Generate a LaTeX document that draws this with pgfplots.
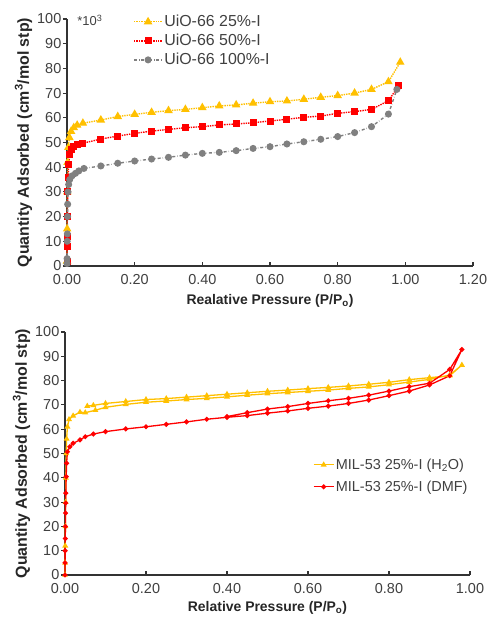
\documentclass[border=0pt]{standalone}
\usepackage{pgfplots}
\pgfplotsset{compat=1.18}
\usepackage{fontspec}
\setmainfont{Liberation Sans}
\definecolor{cY}{HTML}{FFC000}
\definecolor{cR}{HTML}{FF0000}
\definecolor{cG}{HTML}{808080}
\definecolor{txt}{HTML}{404040}
\pgfplotsset{
  base/.style={
    scale only axis, clip=false,
    axis x line*=bottom, axis y line*=left,
    axis line style={line width=1.3bp, black!80, -},
    xtick align=inside, ytick align=outside,
    major tick length=4bp,
    tick style={line width=1.1bp, black!80},
    ymin=0, ymax=100, ytick={0,10,...,100}, xmin=0,
    tick label style={font=\fontsize{14.5}{16}\selectfont, text=txt},
    yticklabel style={inner sep=1.5bp},
    xticklabel style={inner sep=0pt, yshift=-8.5bp, /pgf/number format/fixed, /pgf/number format/fixed zerofill, /pgf/number format/precision=2},
    xlabel style={font=\bfseries\fontsize{14}{16}\selectfont, text=black!85},
    ylabel style={font=\bfseries\fontsize{16}{18}\selectfont, text=black!85},
    /pgf/number format/assume math mode=true,
    legend cell align=left,
  }
}
\begin{document}
\begin{tikzpicture}
\useasboundingbox (0bp,0bp) rectangle (491bp,620bp);
% ---------------- top ----------------
\begin{axis}[base,
  at={(67bp,354bp)}, anchor=south west,
  width=406bp, height=247bp,
  xmax=1.2, xtick={0,0.2,0.4,0.6,0.8,1.0,1.2},
  xlabel style={yshift=-6bp},
  xlabel={Realative Pressure (P/P\textsubscript{o})},
  ylabel={Quantity Adsorbed (cm\textsuperscript{3}/mol stp)},
  legend style={at={(0.163,1.022)}, anchor=north west, draw=none, fill=none,
    font=\fontsize{16}{18}\selectfont, text=txt, row sep=3bp, inner sep=0pt,
    nodes={inner sep=1.5bp}},
  legend image code/.code={\draw[mark repeat=2,mark phase=2,#1] plot coordinates {(0bp,0bp) (14bp,0bp) (28bp,0bp)};},
]
\addplot[cY, densely dotted, line width=1.4bp, mark=triangle*, mark size=3.6bp, mark options={solid}] table {
x y
0.0002 2
0.0005 15
0.001 30
0.002 42
0.004 48
0.007 52
0.012 54.5
0.02 56
0.03 57
0.047 57.8
0.1 59.1
0.15 60.5
0.2 61.4
0.25 62.2
0.3 62.9
0.35 63.4
0.4 64.1
0.45 64.8
0.5 65.2
0.55 65.9
0.6 66.5
0.65 66.8
0.7 67.5
0.75 68.3
0.8 69
0.85 70
0.9 71.5
0.95 74.6
0.985 82.5
};
\addlegendentry{UiO-66 25\%-I}
\addplot[cR, densely dotted, line width=1.4bp, mark=square*, mark size=2.8bp, mark options={solid}] table {
x y
0.0001 2
0.0003 8
0.0005 12
0.001 20
0.002 30
0.003 36
0.005 41
0.008 45
0.012 47
0.02 48.5
0.03 49.2
0.047 49.7
0.1 51.4
0.15 52.6
0.2 53.7
0.25 54.6
0.3 55.3
0.35 56
0.4 56.4
0.45 57.1
0.5 57.5
0.55 58
0.6 58.7
0.65 59.4
0.7 60.2
0.75 60.7
0.8 61.8
0.85 62.5
0.9 63.4
0.95 66.9
0.98 72.9
};
\addlegendentry{UiO-66 50\%-I}
\addplot[cG, dash dot, line width=1.4bp, mark=*, mark size=2.8bp, mark options={solid}] table {
x y
0.0001 1
0.0003 3
0.0006 10
0.001 13
0.0015 20
0.002 25
0.003 30
0.005 33
0.008 35
0.015 36.5
0.025 37.5
0.035 38.5
0.05 39.5
0.1 40.5
0.15 41.6
0.2 42.5
0.25 43.3
0.3 44
0.35 44.9
0.4 45.6
0.45 46
0.5 46.7
0.55 47.6
0.6 48.3
0.65 49.4
0.7 50.3
0.75 51.3
0.8 52.4
0.85 54
0.9 56.4
0.95 61.5
0.975 71.5
};
\addlegendentry{UiO-66 100\%-I}
\node[anchor=west, font=\fontsize{13}{15}\selectfont, text=txt, inner sep=0pt] at (rel axis cs:0.025,0.995) {*10\textsuperscript{3}};
\end{axis}
% ---------------- bottom ----------------
\begin{axis}[base,
  at={(65bp,45bp)}, anchor=south west,
  width=405bp, height=243bp,
  xmax=1.0, xtick={0,0.2,0.4,0.6,0.8,1.0},
  xlabel style={yshift=-4bp},
  xlabel={Relative Pressure (P/P\textsubscript{o})},
  ylabel={Quantity Adsorbed (cm\textsuperscript{3}/mol stp)},
  legend style={at={(0.612,0.485)}, anchor=north west, draw=none, fill=none,
    font=\fontsize{14.5}{16}\selectfont, text=txt, row sep=7bp, inner sep=0pt,
    nodes={inner sep=1.5bp}},
  legend image code/.code={\draw[mark repeat=2,mark phase=2,#1] plot coordinates {(0bp,0bp) (10bp,0bp) (20bp,0bp)};},
]
\addplot[cY, line width=1.3bp, mark=triangle*, mark size=2.2bp] table {
x y
0 0
0.0003 5
0.0006 12
0.001 20
0.0015 30
0.002 40
0.003 50
0.004 56
0.006 61
0.01 64
0.02 65.5
0.037 67
0.05 66.8
0.075 67.8
0.1 69
0.15 70.2
0.2 71.1
0.25 71.6
0.3 72.2
0.35 72.7
0.4 73.3
0.45 74
0.5 74.6
0.55 75.1
0.6 75.6
0.65 76.1
0.7 76.8
0.75 77.4
0.8 78.3
0.85 79.4
0.9 80.5
0.95 82.3
0.98 86.4
0.95 82.0
0.9 81.2
0.85 80.4
0.8 79.3
0.75 78.5
0.7 77.8
0.65 77.2
0.6 76.7
0.55 76.1
0.5 75.6
0.45 75
0.4 74.4
0.35 73.8
0.3 73.2
0.25 72.6
0.2 72.2
0.15 71.4
0.1 70.6
0.07 69.8
0.055 69.5
};
\addlegendentry{MIL-53 25\%-I (H\textsubscript{2}O)}
\addplot[cR, line width=1.3bp, mark=*, mark size=1.8bp] table {
x y
0 0
0.0002 5
0.0004 10
0.0007 15
0.001 20
0.0013 25.5
0.0016 29.6
0.002 33.7
0.003 40.5
0.004 46
0.006 50.7
0.012 52.8
0.02 54.2
0.037 55.6
0.05 56.9
0.07 58
0.1 59
0.15 60.1
0.2 61
0.25 62
0.3 63
0.35 64.1
0.4 64.9
0.45 65.6
0.5 66.6
0.55 67.5
0.6 68.6
0.65 69.5
0.7 70.6
0.75 72
0.8 73.8
0.85 75.7
0.9 78.2
0.95 82
0.98 92.8
0.95 84.6
0.9 78.9
0.85 77.5
0.8 75.7
0.75 74
0.7 72.7
0.65 71.7
0.6 70.6
0.55 69.3
0.5 68.3
0.45 66.8
0.4 65.2
};
\addlegendentry{MIL-53 25\%-I (DMF)}
\end{axis}
\end{tikzpicture}
\end{document}
